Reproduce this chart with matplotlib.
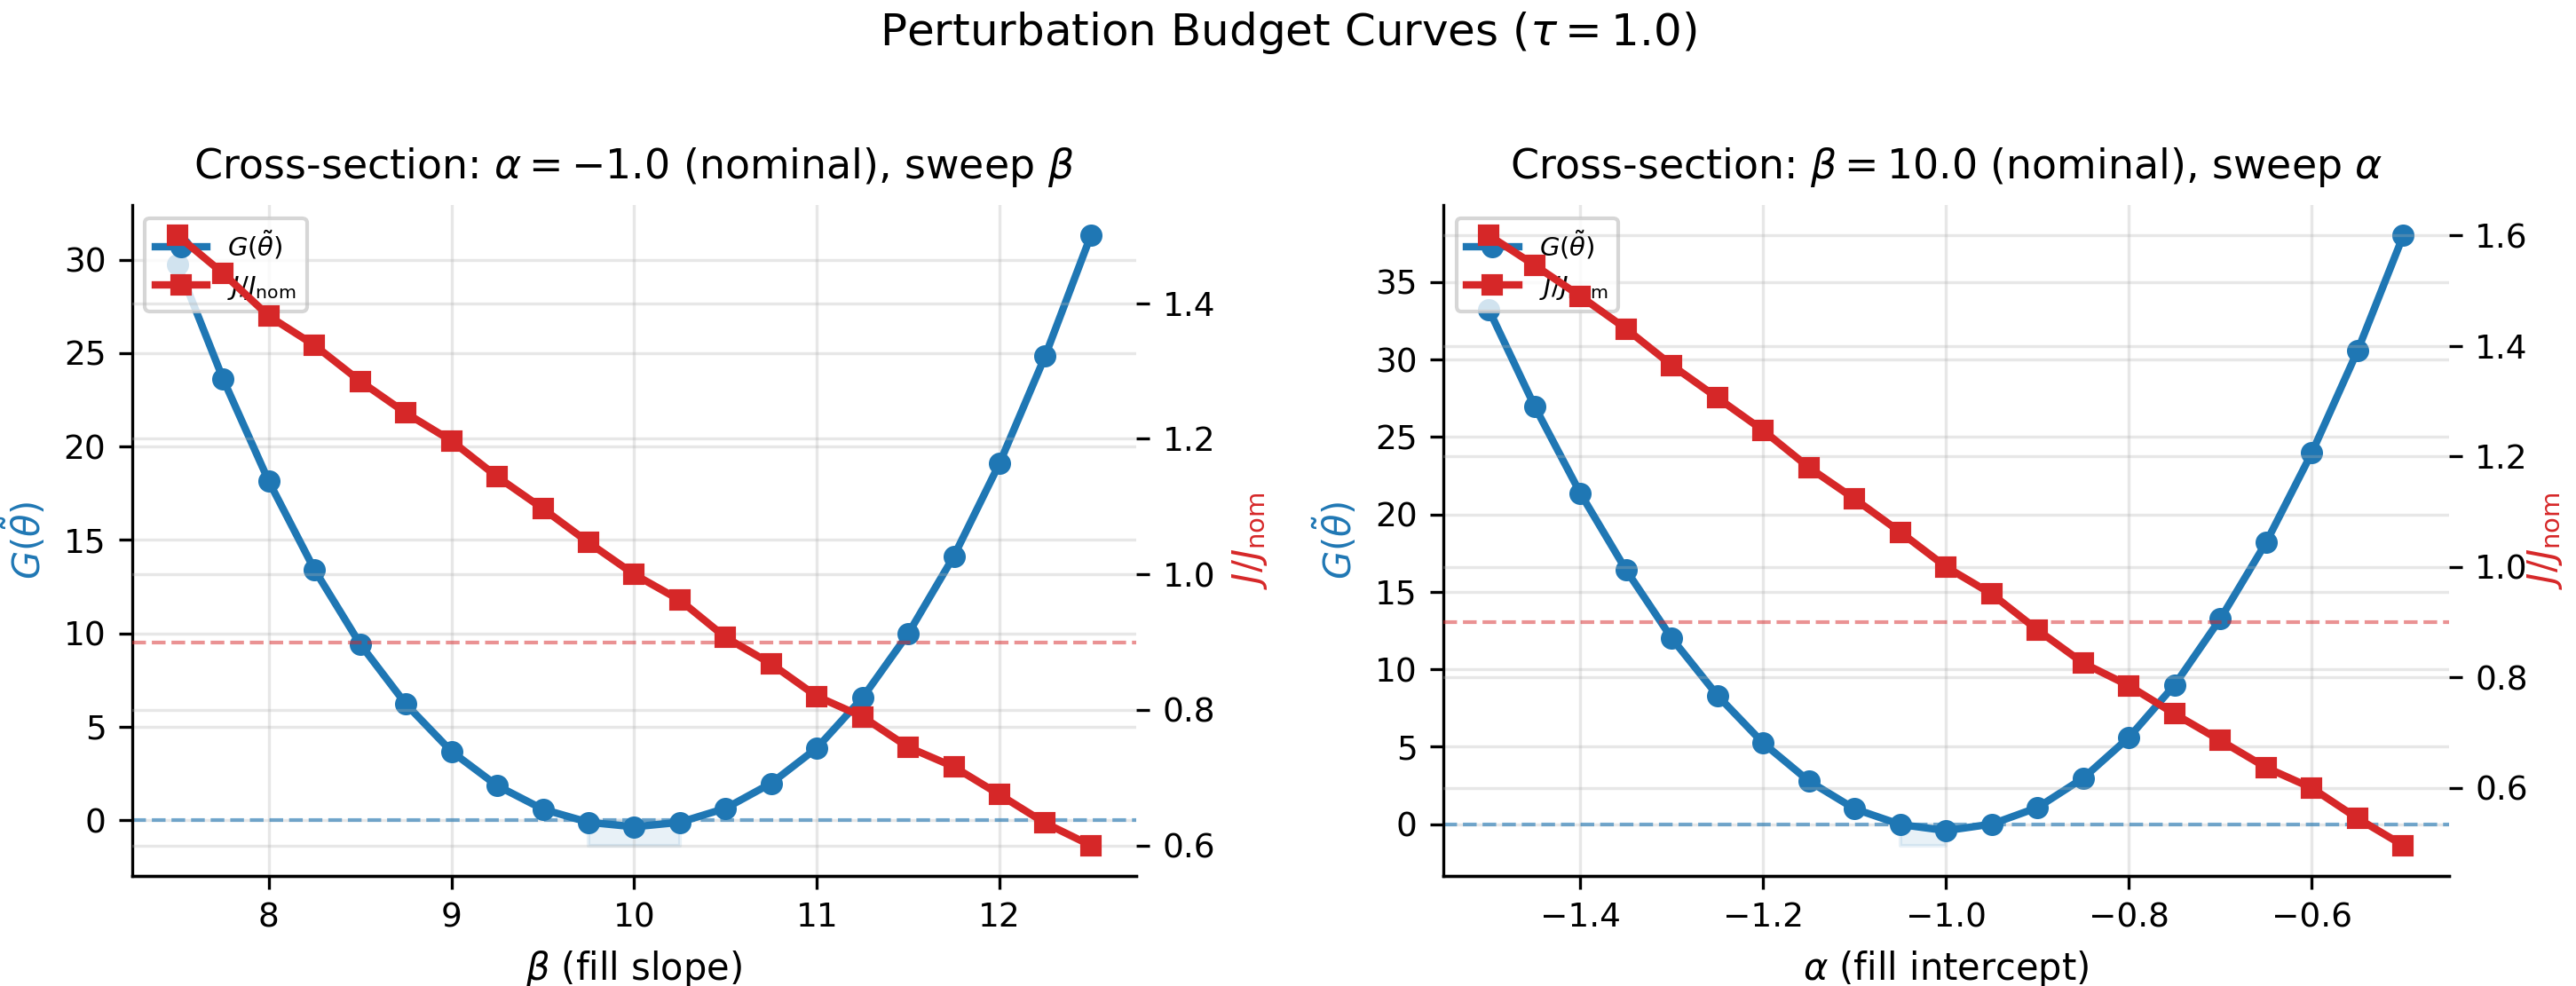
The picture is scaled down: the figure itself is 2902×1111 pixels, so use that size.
import numpy as np
import matplotlib
matplotlib.use("Agg")
import matplotlib.pyplot as plt

# ---------------- data ----------------
beta_vals = [7.5, 7.75, 8.0, 8.25, 8.5, 8.75, 9.0, 9.25, 9.5, 9.75, 10.0,
             10.25, 10.5, 10.75, 11.0, 11.25, 11.5, 11.75, 12.0, 12.25, 12.5]
G_beta = [29.76, 23.6, 18.13, 13.4, 9.42, 6.21, 3.67, 1.84, 0.58, -0.12, -0.36,
          -0.12, 0.63, 1.97, 3.86, 6.55, 9.98, 14.13, 19.1, 24.85, 31.3]
J_beta = [1.5, 1.444, 1.381, 1.338, 1.285, 1.238, 1.197, 1.144, 1.097, 1.047, 1.0,
          0.962, 0.907, 0.868, 0.82, 0.79, 0.745, 0.716, 0.675, 0.633, 0.6]

alpha_vals = [-1.5, -1.45, -1.4, -1.35, -1.3, -1.25, -1.2, -1.15, -1.1, -1.05, -1.0,
              -0.95, -0.9, -0.85, -0.8, -0.75, -0.7, -0.65, -0.6, -0.55, -0.5]
G_alpha = [33.19, 26.96, 21.35, 16.4, 11.99, 8.3, 5.23, 2.78, 0.99, -0.02, -0.41,
           0.01, 1.08, 2.98, 5.61, 9.0, 13.27, 18.19, 23.98, 30.56, 38.0]
J_alpha = [1.6, 1.546, 1.49, 1.431, 1.365, 1.306, 1.247, 1.18, 1.123, 1.063, 1.0,
           0.951, 0.886, 0.826, 0.785, 0.734, 0.686, 0.637, 0.6, 0.545, 0.496]

G_threshold = 0.0
J_threshold = 0.9
fill_lower = [-1.36, -1.37]

titles = [r"Cross-section: $\alpha = -1.0$ (nominal), sweep $\beta$",
          r"Cross-section: $\beta = 10.0$ (nominal), sweep $\alpha$"]
xlabels = [r"$\beta$ (fill slope)", r"$\alpha$ (fill intercept)"]
suptitle = r"Perturbation Budget Curves ($\tau = 1.0$)"

# ---------------- figure ----------------
W, H = 2902, 1111
DPI = 300
fig = plt.figure(figsize=(W / DPI, H / DPI), dpi=DPI)

c_blue = "#1f77b4"
c_red = "#d62728"

positions = [[0.0512, 0.1116, 0.390, 0.6805],
             [0.5603, 0.1116, 0.3904, 0.6805]]
right_labelpads = [4.0, -0.6]

panels = [(beta_vals, G_beta, J_beta), (alpha_vals, G_alpha, J_alpha)]

for i, (xv, gv, jv) in enumerate(panels):
    ax = fig.add_axes(positions[i])
    x = np.array(xv)
    g = np.array(gv)
    j = np.array(jv)

    l1, = ax.plot(x, g, "-o", color=c_blue, lw=2, ms=5, label=r"$G(\tilde{\theta})$")
    ax.axhline(G_threshold, color=c_blue, ls="--", lw=1, alpha=0.6)
    ax.fill_between(x, fill_lower[i], G_threshold, where=g < 0, color=c_blue, alpha=0.1)
    ax.set_ylabel(r"$G(\tilde{\theta})$", color=c_blue, fontsize=10)
    ax.set_xlabel(xlabels[i], fontsize=10)
    ax.set_title(titles[i], fontsize=11, pad=7.3)
    ax.tick_params(labelsize=9)
    ax.grid(True, alpha=0.3)
    ax.spines["top"].set_visible(False)
    ax.spines["right"].set_visible(False)

    ax2 = ax.twinx()
    l2, = ax2.plot(x, j, "-s", color=c_red, lw=2, ms=5, label=r"$J/J_{\mathrm{nom}}$")
    ax2.axhline(J_threshold, color=c_red, ls="--", lw=1, alpha=0.5)
    ax2.set_ylabel(r"$J/J_{\mathrm{nom}}$", color=c_red, fontsize=10,
                   labelpad=right_labelpads[i])
    ax2.tick_params(labelsize=9)
    ax2.grid(True, alpha=0.3)
    ax2.spines["top"].set_visible(False)
    ax2.spines["right"].set_visible(False)
    ax2.spines["left"].set_visible(False)

    ax.legend([l1, l2], [l1.get_label(), l2.get_label()], loc="upper left", fontsize=7)

fig.suptitle(suptitle, fontsize=12, y=0.99)
fig.savefig("out.png", dpi=DPI)
